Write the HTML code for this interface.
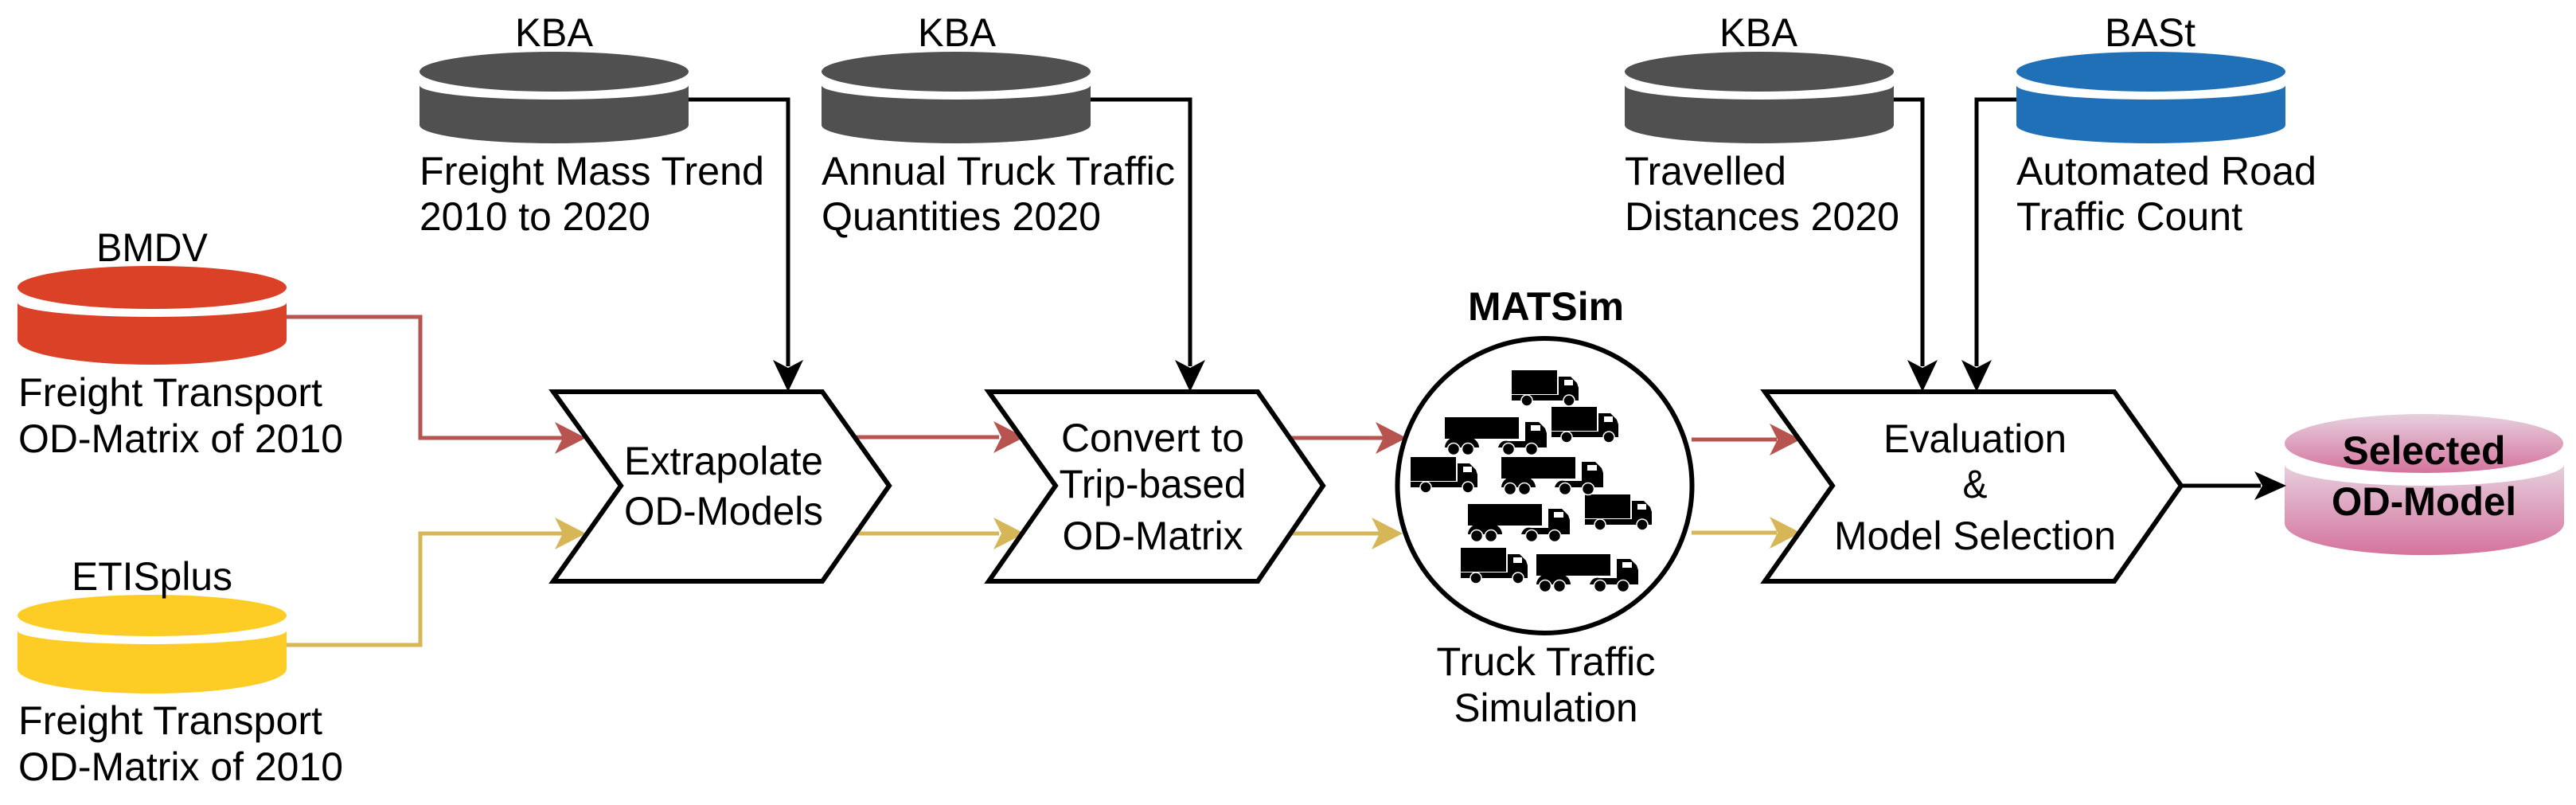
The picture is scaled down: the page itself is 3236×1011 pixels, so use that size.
<!DOCTYPE html>
<html><head><meta charset="utf-8"><style>
html,body{margin:0;padding:0;background:#fff;}
svg{display:block;}
text{font-family:"Liberation Sans",Arimo,Arial,sans-serif;font-size:50px;fill:#000;}
</style></head><body>
<svg width="3236" height="1011" viewBox="0 0 3236 1011" xmlns="http://www.w3.org/2000/svg">
<defs>
<linearGradient id="pk" x1="0" y1="0" x2="0" y2="1">
<stop offset="0" stop-color="#e6d0de"/><stop offset="1" stop-color="#d5739d"/>
</linearGradient>
<g id="box">
<rect x="0" y="0" width="57" height="30"/>
<path d="M0,31 H59 V8 H74 L82,16 L84,22 V38 H0 Z"/>
<rect x="66" y="12" width="11" height="7" fill="#fff"/>
<circle cx="19" cy="38" r="7" stroke="#fff" stroke-width="1.5"/>
<circle cx="72" cy="38" r="7" stroke="#fff" stroke-width="1.5"/>
</g>
<g id="semi">
<rect x="0" y="0" width="93" height="27"/>
<path d="M0,38 A11,8 0 0 1 43,38 Z"/>
<path d="M67,38 Q70,28 80,30 H101 V6 H118 L126,14 L128,20 V38 Z"/>
<rect x="108" y="10" width="12" height="7" fill="#fff"/>
<circle cx="11" cy="40" r="7.5" stroke="#fff" stroke-width="1.5"/>
<circle cx="29" cy="40" r="7.5" stroke="#fff" stroke-width="1.5"/>
<circle cx="80" cy="40" r="7.5" stroke="#fff" stroke-width="1.5"/>
<circle cx="109" cy="40" r="7.5" stroke="#fff" stroke-width="1.5"/>
</g>
</defs>

<!-- cylinders -->
<g fill="#505050">
<ellipse cx="696" cy="90" rx="169" ry="25"/>
<path d="M527,107 V157 A169,23 0 0 0 865,157 V107 A169,18 0 0 1 527,107 Z"/>
<ellipse cx="1201" cy="90" rx="169" ry="25"/>
<path d="M1032,107 V157 A169,23 0 0 0 1370,157 V107 A169,18 0 0 1 1032,107 Z"/>
<ellipse cx="2210" cy="90" rx="169" ry="25"/>
<path d="M2041,107 V157 A169,23 0 0 0 2379,157 V107 A169,18 0 0 1 2041,107 Z"/>
</g>
<g fill="#2070b8">
<ellipse cx="2702" cy="90" rx="169" ry="25"/>
<path d="M2533,107 V157 A169,23 0 0 0 2871,157 V107 A169,18 0 0 1 2533,107 Z"/>
</g>
<g fill="#db4127">
<ellipse cx="191" cy="361" rx="169" ry="27"/>
<path d="M22,380 V427 A169,31 0 0 0 360,427 V380 A169,18 0 0 1 22,380 Z"/>
</g>
<g fill="#fdcd26">
<ellipse cx="191" cy="773" rx="169" ry="26"/>
<path d="M22,792 V840 A169,31 0 0 0 360,840 V792 A169,17 0 0 1 22,792 Z"/>
</g>
<g fill="url(#pk)">
<ellipse cx="3045" cy="557" rx="175" ry="37"/>
<path d="M2870,583 V657 A175,40 0 0 0 3221,657 V583 A175,27 0 0 1 2870,583 Z"/>
</g>

<!-- top labels -->
<g text-anchor="middle" lengthAdjust="spacingAndGlyphs">
<text x="696" y="58" textLength="98" lengthAdjust="spacingAndGlyphs">KBA</text>
<text x="1202" y="58" textLength="98" lengthAdjust="spacingAndGlyphs">KBA</text>
<text x="2209" y="58" textLength="98" lengthAdjust="spacingAndGlyphs">KBA</text>
<text x="2701" y="58" textLength="114" lengthAdjust="spacingAndGlyphs">BASt</text>
<text x="191" y="328" textLength="140" lengthAdjust="spacingAndGlyphs">BMDV</text>
<text x="191" y="741" textLength="202" lengthAdjust="spacingAndGlyphs">ETISplus</text>
</g>
<text x="527" y="232" textLength="433" lengthAdjust="spacingAndGlyphs">Freight Mass Trend</text>
<text x="527" y="289" textLength="290" lengthAdjust="spacingAndGlyphs">2010 to 2020</text>
<text x="1032" y="232" textLength="444" lengthAdjust="spacingAndGlyphs">Annual Truck Traffic</text>
<text x="1032" y="289" textLength="351" lengthAdjust="spacingAndGlyphs">Quantities 2020</text>
<text x="2041" y="232" textLength="203" lengthAdjust="spacingAndGlyphs">Travelled</text>
<text x="2041" y="289" textLength="345" lengthAdjust="spacingAndGlyphs">Distances 2020</text>
<text x="2533" y="232" textLength="377" lengthAdjust="spacingAndGlyphs">Automated Road</text>
<text x="2533" y="289" textLength="284" lengthAdjust="spacingAndGlyphs">Traffic Count</text>
<text x="23" y="510" textLength="382" lengthAdjust="spacingAndGlyphs">Freight Transport</text>
<text x="23" y="568" textLength="408" lengthAdjust="spacingAndGlyphs">OD-Matrix of 2010</text>
<text x="23" y="922" textLength="382" lengthAdjust="spacingAndGlyphs">Freight Transport</text>
<text x="23" y="980" textLength="408" lengthAdjust="spacingAndGlyphs">OD-Matrix of 2010</text>

<!-- connectors -->
<g fill="none" stroke-width="5">
<path d="M865,125 H990 V460" stroke="#000"/>
<path d="M1370,125 H1495 V460" stroke="#000"/>
<path d="M2379,125 H2415 V460" stroke="#000"/>
<path d="M2533,125 H2483 V460" stroke="#000"/>
<path d="M2740,610 H2840" stroke="#000"/>
<path d="M360,398 H528 V550 H710" stroke="#b85450"/>
<path d="M360,810 H528 V670 H710" stroke="#d6b656"/>
<path d="M1075,549 H1255" stroke="#b85450"/>
<path d="M1075,670 H1255" stroke="#d6b656"/>
<path d="M1622,550 H1738" stroke="#b85450"/>
<path d="M1622,670 H1733" stroke="#d6b656"/>
<path d="M2125,552 H2232" stroke="#b85450"/>
<path d="M2125,669 H2232" stroke="#d6b656"/>
</g>
<g fill="#000">
<path d="M990,492 L971,452 L990,462 L1009,452 Z"/>
<path d="M1495,492 L1476,452 L1495,462 L1514,452 Z"/>
<path d="M2415,492 L2396,452 L2415,462 L2434,452 Z"/>
<path d="M2483,492 L2464,452 L2483,462 L2502,452 Z"/>
<path d="M2872,610 L2832,592 L2842,610 L2832,628 Z"/>
</g>
<g fill="#b85450">
<path d="M736,550 L697,530 L707,550 L697,570 Z"/>
<path d="M1287,549 L1248,529 L1258,549 L1248,569 Z"/>
<path d="M1767,550 L1728,530 L1738,550 L1728,570 Z"/>
<path d="M2262,552 L2223,532 L2233,552 L2223,572 Z"/>
</g>
<g fill="#d6b656">
<path d="M736,670 L697,650 L707,670 L697,690 Z"/>
<path d="M1287,670 L1248,650 L1258,670 L1248,690 Z"/>
<path d="M1762,670 L1723,650 L1733,670 L1723,690 Z"/>
<path d="M2262,669 L2223,649 L2233,669 L2223,689 Z"/>
</g>

<!-- chevrons -->
<g fill="#fff" stroke="#000" stroke-width="6" stroke-linejoin="miter">
<path d="M695,492 H1033 L1117,610 L1033,730 H695 L780,610 Z"/>
<path d="M1242,492 H1580 L1662,610 L1580,730 H1242 L1326,610 Z"/>
<path d="M2217,492 H2656 L2740,610 L2656,730 H2217 L2302,610 Z"/>
</g>
<g text-anchor="middle">
<text x="909" y="596" textLength="250" lengthAdjust="spacingAndGlyphs">Extrapolate</text>
<text x="909" y="659" textLength="250" lengthAdjust="spacingAndGlyphs">OD-Models</text>
<text x="1448" y="567" textLength="230" lengthAdjust="spacingAndGlyphs">Convert to</text>
<text x="1448" y="625" textLength="235" lengthAdjust="spacingAndGlyphs">Trip-based</text>
<text x="1448" y="690" textLength="227" lengthAdjust="spacingAndGlyphs">OD-Matrix</text>
<text x="2481" y="568" textLength="230" lengthAdjust="spacingAndGlyphs">Evaluation</text>
<text x="2481" y="625" textLength="31" lengthAdjust="spacingAndGlyphs">&amp;</text>
<text x="2481" y="690" textLength="354" lengthAdjust="spacingAndGlyphs">Model Selection</text>
<text x="1942" y="848" textLength="275" lengthAdjust="spacingAndGlyphs">Truck Traffic</text>
<text x="1942" y="906" textLength="231" lengthAdjust="spacingAndGlyphs">Simulation</text>
<text x="1942" y="402" font-weight="bold" textLength="196" lengthAdjust="spacingAndGlyphs">MATSim</text>
<text x="3045" y="583" font-weight="bold" textLength="205" lengthAdjust="spacingAndGlyphs">Selected</text>
<text x="3045" y="647" font-weight="bold" textLength="232" lengthAdjust="spacingAndGlyphs">OD-Model</text>
</g>

<!-- MATSim circle -->
<circle cx="1940.5" cy="610" r="185" fill="#fff" stroke="#000" stroke-width="6"/>
<g fill="#000">
<use href="#box" x="1899" y="465"/>
<use href="#box" x="1949" y="511"/>
<use href="#box" x="1772" y="574"/>
<use href="#box" x="1991" y="621"/>
<use href="#box" x="1835" y="688"/>
<use href="#semi" x="1815" y="524"/>
<use href="#semi" x="1886" y="574"/>
<use href="#semi" x="1844" y="633"/>
<use href="#semi" x="1930" y="696"/>
</g>
</svg>
</body></html>
